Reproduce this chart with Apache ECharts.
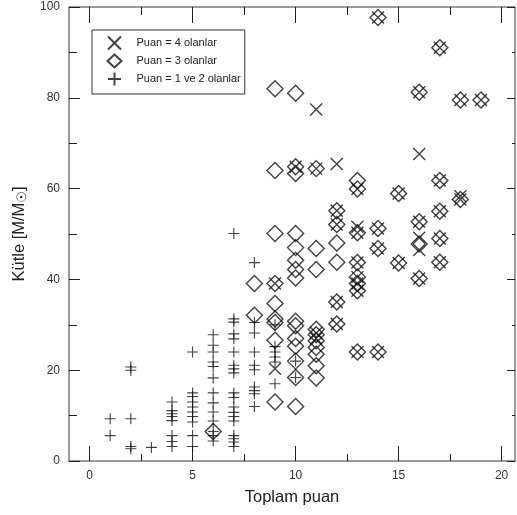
<!DOCTYPE html>
<html>
<head>
<meta charset="utf-8">
<script src="https://cdn.jsdelivr.net/npm/echarts@6/dist/echarts.min.js"></script>
<style>
html,body{margin:0;padding:0;background:#fff;}
#chart{width:517px;height:515px;}
</style>
</head>
<body>
<div id="chart"></div>
<script>
// Legend names
const seriesNames = ['Puan = 4 olanlar', 'Puan = 3 olanlar', 'Puan = 1 ve 2 olanlar'];

// Tick labels
const xTicks = [0, 5, 10, 15, 20];
const xMinorTicks = [2.5, 7.5, 12.5, 17.5];

// Puan = 4 (X markers) [toplam puan, kütle]
const puan4 = [
  [14, 97.7], [17, 91], [16, 81.2], [18, 79.5], [19, 79.5], [10, 64.8], [11, 64.4],
  [13, 59.9], [15, 58.9], [17, 61.8], [18, 57.6], [17, 55.0], [12, 55.1], [12, 52.1],
  [13, 50.3], [14, 51.2], [16, 52.7], [17, 49.0], [14, 46.8], [15, 43.6], [16, 40.2],
  [17, 43.8], [13, 43.7], [13, 40.5], [13, 39.1], [13, 37.5], [12, 35.0], [12, 30.2],
  [13, 24.0], [14, 24.0], [9, 39.1],
  [11, 77.4], [16, 67.6], [12, 65.4], [18, 58.3], [13, 51.6], [16, 49.2], [16, 46.5],
  [9, 20.3], [11, 28.2], [11, 27.0]
];

// Puan = 3 (diamonds)
const puan3 = [
  [14, 97.7], [17, 91], [16, 81.2], [18, 79.5], [19, 79.5], [10, 64.8], [11, 64.4],
  [13, 59.9], [15, 58.9], [17, 61.8], [18, 57.6], [17, 55.0], [12, 55.1], [12, 52.1],
  [13, 50.3], [14, 51.2], [16, 52.7], [17, 49.0], [14, 46.8], [15, 43.6], [16, 40.2],
  [17, 43.8], [13, 43.7], [13, 40.5], [13, 39.1], [13, 37.5], [12, 35.0], [12, 30.2],
  [13, 24.0], [14, 24.0], [9, 39.1],
  [9, 82], [10, 81], [9, 64], [10, 63.3], [13, 61.8], [9, 50.1], [10, 50.1], [10, 47],
  [11, 46.8], [12, 48], [16, 47.8], [10, 44.2], [10, 42.2], [10, 40.3], [11, 42.2],
  [12, 43.8], [8, 39.1], [9, 34.7], [8, 32.1], [9, 31.3], [9, 30.5], [9, 26.6], [9, 13.0],
  [10, 30.8], [10, 29.8], [10, 27.0], [10, 25.3], [10, 22.0], [10, 18.4], [10, 12.0],
  [11, 29], [11, 27.8], [11, 26.5], [11, 25], [11, 23.5], [11, 21], [11, 18.3], [6, 6.5]
];

// Puan = 1 ve 2 (plus)
const puan12 = [
  [1, 9.3], [1, 5.6],
  [2, 20.7], [2, 20.0], [2, 9.3], [2, 3.2], [2, 2.7],
  [3, 3.0],
  [4, 13.0], [4, 11.1], [4, 10.4], [4, 9.8], [4, 8.9], [4, 5.6], [4, 4.3], [4, 3.2],
  [5, 24.0], [5, 15.0], [5, 14.2], [5, 13.0], [5, 11.9], [5, 10.8], [5, 9.8], [5, 8.6], [5, 5.6], [5, 3.2],
  [6, 27.8], [6, 25.5], [6, 24.0], [6, 21.8], [6, 20.8], [6, 18.3], [6, 15.0], [6, 12.8], [6, 10.8], [6, 8.8], [6, 6.5], [6, 5.6], [6, 4.4],
  [7, 50.1], [7, 31.3], [7, 30.6], [7, 28.0], [7, 26.9], [7, 24.0], [7, 21.1], [7, 20.3], [7, 19.4], [7, 15.0], [7, 14.0], [7, 11.9], [7, 10.7], [7, 9.8], [7, 8.8], [7, 5.6], [7, 4.9], [7, 4.2], [7, 3.2],
  [8, 43.7], [8, 30.5], [8, 28.2], [8, 24.0], [8, 21.1], [8, 20.1], [8, 16.3], [8, 15.5], [8, 14.8], [8, 12.0],
  [9, 30.0], [9, 25.2], [9, 24.0], [9, 22.9], [9, 21.8], [9, 17.0],
  [10, 22.0], [10, 18.4]
];

const FONT = 'Liberation Sans, Arial, sans-serif';
const axisGrey = '#7a7a7a';
const tickDark = '#222';

const chart = echarts.init(document.getElementById('chart'), null, {renderer: 'canvas'});

const xBase = {type: 'value', min: -1, max: 20.65, splitLine: {show: false}};
const option = {
  backgroundColor: '#fff',
  animation: false,
  grid: {left: 69, right: 2, top: 7, bottom: 54, containLabel: false},
  legend: {
    orient: 'vertical',
    left: 92, top: 30,
    padding: [4, 4, 6, 13],
    itemGap: 0,
    itemWidth: 14, itemHeight: 13,
    borderColor: '#333', borderWidth: 1,
    backgroundColor: '#fff',
    textStyle: {fontFamily: FONT, fontSize: 11, color: '#222', padding: [0, 0, 0, 10]},
    data: seriesNames
  },
  xAxis: [
    Object.assign({}, xBase, {
      position: 'bottom',
      name: 'Toplam puan', nameLocation: 'middle', nameGap: 28,
      nameTextStyle: {fontFamily: FONT, fontSize: 16.5, color: '#222'},
      axisLine: {show: true, onZero: false, lineStyle: {color: axisGrey, width: 1.5}},
      axisTick: {show: true, inside: true, length: 15, customValues: xTicks, lineStyle: {color: tickDark}},
      axisLabel: {show: true, customValues: xTicks, margin: 9, fontFamily: FONT, fontSize: 12, color: '#333'}
    }),
    Object.assign({}, xBase, {
      position: 'bottom',
      axisLine: {show: false, onZero: false},
      axisTick: {show: true, inside: true, length: 7, customValues: xMinorTicks, lineStyle: {color: tickDark}},
      axisLabel: {show: false}
    }),
    Object.assign({}, xBase, {
      position: 'top',
      axisLine: {show: true, onZero: false, lineStyle: {color: axisGrey, width: 1.5}},
      axisTick: {show: true, inside: true, length: 16, customValues: xTicks, lineStyle: {color: tickDark}},
      axisLabel: {show: false}
    }),
    Object.assign({}, xBase, {
      position: 'top',
      axisLine: {show: false, onZero: false},
      axisTick: {show: true, inside: true, length: 8, customValues: xMinorTicks, lineStyle: {color: tickDark}},
      axisLabel: {show: false}
    })
  ],
  yAxis: [
    {
      type: 'value', min: 0, max: 100, interval: 20, position: 'left',
      name: 'Kütle [M/M{sub|☉}]', nameLocation: 'middle', nameGap: 39,
      nameTextStyle: {
        fontFamily: FONT, fontSize: 16.5, color: '#222',
        rich: {sub: {fontFamily: 'DejaVu Sans, sans-serif', fontSize: 13, color: '#222', padding: [7, 0, 0, 0]}}
      },
      splitLine: {show: false},
      axisLine: {show: true, onZero: false, lineStyle: {color: axisGrey, width: 1.5}},
      axisTick: {show: true, inside: true, length: 11, lineStyle: {color: tickDark}},
      minorTick: {show: true, splitNumber: 2, length: 8, lineStyle: {color: tickDark}},
      axisLabel: {margin: 9, fontFamily: FONT, fontSize: 12, color: '#333'}
    },
    {
      type: 'value', min: 0, max: 100, interval: 20, position: 'right',
      splitLine: {show: false},
      axisLine: {show: true, onZero: false, lineStyle: {color: axisGrey, width: 1.5}},
      axisTick: {show: true, inside: true, length: 8, lineStyle: {color: tickDark}},
      minorTick: {show: true, splitNumber: 2, length: 3, lineStyle: {color: tickDark}},
      axisLabel: {show: false}
    }
  ],
  series: [
    {
      name: seriesNames[0], type: 'scatter', xAxisIndex: 0, yAxisIndex: 0,
      symbol: 'path://M0,0L10,10M10,0L0,10', symbolSize: 12,
      itemStyle: {color: 'none', borderColor: '#111', borderWidth: 1.4},
      data: puan4, z: 3
    },
    {
      name: seriesNames[1], type: 'scatter', xAxisIndex: 0, yAxisIndex: 0,
      symbol: 'diamond', symbolSize: 16,
      itemStyle: {color: 'none', borderColor: '#111', borderWidth: 1.4},
      data: puan3, z: 4
    },
    {
      name: seriesNames[2], type: 'scatter', xAxisIndex: 0, yAxisIndex: 0,
      symbol: 'path://M5,0L5,10M0,5L10,5', symbolSize: 11,
      itemStyle: {color: 'none', borderColor: '#111', borderWidth: 1.1},
      data: puan12, z: 2
    }
  ]
};
chart.setOption(option);
</script>
</body>
</html>
